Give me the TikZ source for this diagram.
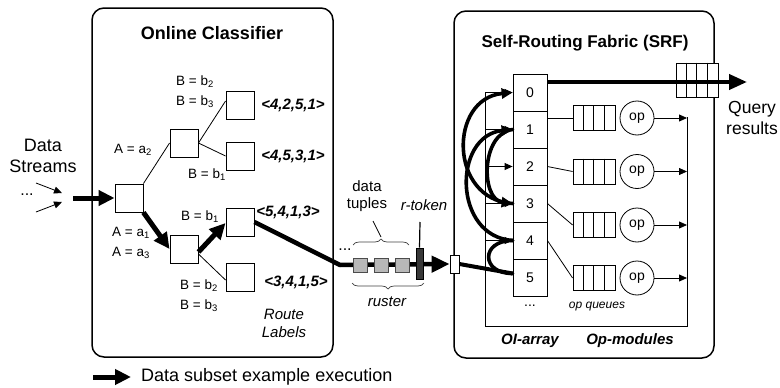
\documentclass[tikz,border=0pt]{standalone}
\usepackage{fontspec}
\setmainfont{Liberation Sans}
\usetikzlibrary{arrows.meta,decorations.pathreplacing,calc}
\newcommand{\myfs}[2]{\fontsize{#1}{#2}\selectfont}
\begin{document}
\begin{tikzpicture}[x=1pt,y=-1pt,
  panel/.style={draw, line width=1.5pt, rounded corners=12pt, inner sep=0pt},
  tbox/.style={draw, line width=0.9pt, minimum width=28pt, minimum height=28pt, inner sep=0pt},
  thinline/.style={line width=0.8pt},
  tarr/.style={line width=0.8pt, -{Triangle[length=8pt,width=7pt]}},
  bigarr/.style={line width=5pt, -{Triangle[length=16pt,width=15pt]}},
  curvarr/.style={line width=3.6pt, line cap=round, -{Triangle[length=11pt,width=10pt]}},
  curv/.style={line width=3.6pt, line cap=round},
  lbl/.style={font=\myfs{13.5}{20.5}, inner sep=0pt},
  route/.style={font=\myfs{15}{18}\bfseries\itshape, inner sep=0pt},
  itl/.style={font=\myfs{15}{17}\itshape, inner sep=0pt},
  cell/.style={draw, line width=0.8pt, minimum width=34pt, minimum height=37pt, inner sep=0pt, font=\myfs{14}{16}},
  queue/.style={draw, line width=0.8pt, fill=white, minimum width=42pt, minimum height=25pt, inner sep=0pt},
  opc/.style={draw, circle, line width=0.8pt, minimum size=34pt, inner sep=0pt, font=\myfs{14}{16}},
  gsq/.style={draw=black!70, line width=0.6pt, fill=black!28, minimum size=14pt, inner sep=0pt},
  brc/.style={decorate, decoration={brace, amplitude=6pt}, line width=0.7pt, draw=black!75}
]
\useasboundingbox (0,0) rectangle (780,388);

% panels
\node[panel, minimum width=241pt, minimum height=349pt] (clf) at (212.5,182.5) {};
\node[panel, minimum width=260pt, minimum height=347pt] (srf) at (584,184.5) {};
\node[font=\myfs{18}{20}\bfseries] (clfT) at (212,33) {Online Classifier};
\node[font=\myfs{17}{20}\bfseries] (srfT) at (585,43) {Self-Routing Fabric (SRF)};

% data streams
\node[font=\myfs{18}{21}, align=center, inner sep=0pt] (ds) at (43,155.5) {Data\\Streams};
\node[font=\myfs{16}{16}, inner sep=0pt] (dots1) at (27,195) {...};
\coordinate (s1a) at (36,183); \coordinate (s1b) at (62,193);
\coordinate (s2a) at (36,212); \coordinate (s2b) at (62,202);
\draw[tarr] (s1a) -- (s1b);
\draw[tarr] (s2a) -- (s2b);

% tree
\node[tbox] (root) at (129,198) {};
\node[tbox] (mu) at (184,143) {};
\node[tbox] (l1) at (240,105) {};
\node[tbox] (l2) at (240,156) {};
\node[tbox] (ml) at (184,249) {};
\node[tbox] (l3) at (240,222) {};
\node[tbox] (l4) at (240,277) {};
\coordinate (inA) at (73,198);
\draw[bigarr] (inA) -- (root.west);
\draw[thinline] (root.north east) -- (mu.west);
\draw[thinline] (mu.east) -- ($(l1.west)+(0,-4)$);
\draw[thinline] (mu.east) -- (l2.west);
\draw[bigarr] (root.south east) -- (ml.west);
\draw[bigarr] ($(ml.east)+(0,3)$) -- ($(l3.west)+(0,1)$);
\draw[thinline] ($(ml.east)+(0,5)$) -- ($(l4.west)+(0,3)$);

\node[lbl, align=left] (lbB23a) at (195,91.5) {B = b\textsubscript{2}\\B = b\textsubscript{3}};
\node[lbl] (lbA2) at (133,150) {A = a\textsubscript{2}};
\node[lbl] (lbB1a) at (207,175) {B = b\textsubscript{1}};
\node[lbl] (lbB1b) at (200,217) {B = b\textsubscript{1}};
\node[lbl, align=left] (lbA13) at (131,243) {A = a\textsubscript{1}\\A = a\textsubscript{3}};
\node[lbl, align=left] (lbB23b) at (199,295.5) {B = b\textsubscript{2}\\B = b\textsubscript{3}};

\node[route] (r1) at (293,105) {<4,2,5,1>};
\node[route] (r2) at (293,156) {<4,5,3,1>};
\node[route] (r3) at (288,212) {<5,4,1,3>};
\node[route] (r4) at (296,282) {<3,4,1,5>};
\node[itl, align=center, font=\myfs{15}{18}\itshape] (rl) at (284,323) {Route\\Labels};

% ruster
\node[draw, fill=white, line width=0.8pt, minimum width=9pt, minimum height=18pt, inner sep=0pt] (entry) at (454.5,264) {};
\coordinate (bend) at (340,265);
\draw[line width=4.5pt, line join=round, -{Triangle[length=18pt,width=16pt]}] (l3.east) -- (bend) -- (entry.west);
\node[gsq] (g1) at (360,265) {};
\node[gsq] (g2) at (381,265) {};
\node[gsq] (g3) at (402,265) {};
\node[draw=black, line width=0.6pt, fill=black!78, minimum width=7pt, minimum height=31pt, inner sep=0pt] (rt) at (419.5,263.5) {};
\node[font=\myfs{16}{16}, inner sep=0pt] (dots2) at (345,250) {...};
\node[font=\myfs{15}{17}, align=center, inner sep=0pt] (dt) at (367,196.5) {data\\tuples};
\node[itl] (rtl) at (424,205) {r-token};
\node[itl] (rus) at (387,302) {ruster};
\draw[brc] (353,245) -- (409,245);
\draw[brc] (424,283) -- (352,283);
\coordinate (brtip) at (381,237);
\coordinate (dtend) at (373,221);
\draw[line width=0.7pt] (brtip) -- (dtend);
\coordinate (rtend) at (420,222);
\draw[line width=1.2pt] (rt.north) -- (rtend);

% SRF: OI-array
\node[cell] (c0) at (530,92.5) {0};
\node[cell] (c1) at (530,129.5) {1};
\node[cell] (c2) at (530,166.5) {2};
\node[cell] (c3) at (530,203.5) {3};
\node[cell] (c4) at (530,240.5) {4};
\node[cell] (c5) at (530,277.5) {5};
\node[font=\myfs{14}{14}, inner sep=0pt] (dots3) at (530,306) {...};

% frame of op-modules
\coordinate (busT) at (485,92.5);
\coordinate (busB) at (485,326);
\coordinate (colB) at (687,326);
\coordinate (colT) at (687,117);
\draw[thinline] (busT) -- (busB) -- (colB) -- (colT);
\foreach \c in {c0,c1,c2,c3,c4} {
  \draw[tarr] (busT |- \c.west) -- (\c.west);
}

% op queues and ops
\foreach \i/\y in {1/118,2/171.5,3/225,4/278} {
  \node[queue] (q\i) at (594,\y) {};
  \foreach \k in {10.5,21,31.5} {
    \draw[line width=0.8pt] ($(q\i.north west)+(\k,0)$) -- ($(q\i.south west)+(\k,0)$);
  }
  \node[opc] (op\i) at (637,\y) {op};
  \draw[tarr] (op\i.east) -- (op\i.east -| colB);
}
\draw[thinline] (c1.east |- q1.west) -- (q1.west);
\draw[thinline] (c2.east) -- (q2.west);
\draw[thinline] (c3.east) -- (q3.west);
\draw[thinline] (c4.east) -- (q4.west);

\node[font=\myfs{12}{14}\itshape, inner sep=0pt] (opq) at (597,307) {op queues};
\node[font=\myfs{15}{17}\bfseries\itshape, inner sep=0pt] (oia) at (530,341) {OI-array};
\node[font=\myfs{15}{17}\bfseries\itshape, inner sep=0pt] (opm) at (630,341) {Op-modules};

% output queue and results
\node[draw, line width=0.8pt, fill=white, minimum width=42pt, minimum height=34pt, inner sep=0pt] (outq) at (697,80) {};
\foreach \k in {10.5,21,31.5} {
  \draw[line width=0.8pt] ($(outq.north west)+(\k,0)$) -- ($(outq.south west)+(\k,0)$);
}
\coordinate (qtip) at (747,82);
\draw[line width=4pt, -{Triangle[length=18pt,width=15pt]}] ($(c0.east)+(0,-10.5)$) -- (qtip);
\node[font=\myfs{17.5}{21}, align=center, inner sep=0pt] (qres) at (752,117.5) {Query\\results};

% thick route inside SRF
\draw[line width=4pt] (entry.east) -- ($(c5.west)+(0,-4)$);
\draw[curv] ($(c5.west)+(0,-4)$) .. controls +(-32,0) and +(-32,0) .. (c4.west);
\draw[curvarr] (c4.west) .. controls +(-60,-4) and +(-60,6) .. (c1.west);
\draw[curvarr] (c1.west) .. controls +(-32,4) and +(-32,-4) .. (c3.west);
\draw[curvarr] (c3.west) .. controls +(-64,-4) and +(-64,6) .. (c0.west);

% legend
\coordinate (lgA) at (93,377);
\coordinate (lgB) at (131,377);
\draw[bigarr] (lgA) -- (lgB);
\node[anchor=west, font=\myfs{18}{20}, inner sep=0pt] (lgT) at (141,377) {Data subset example execution};
\end{tikzpicture}
\end{document}
